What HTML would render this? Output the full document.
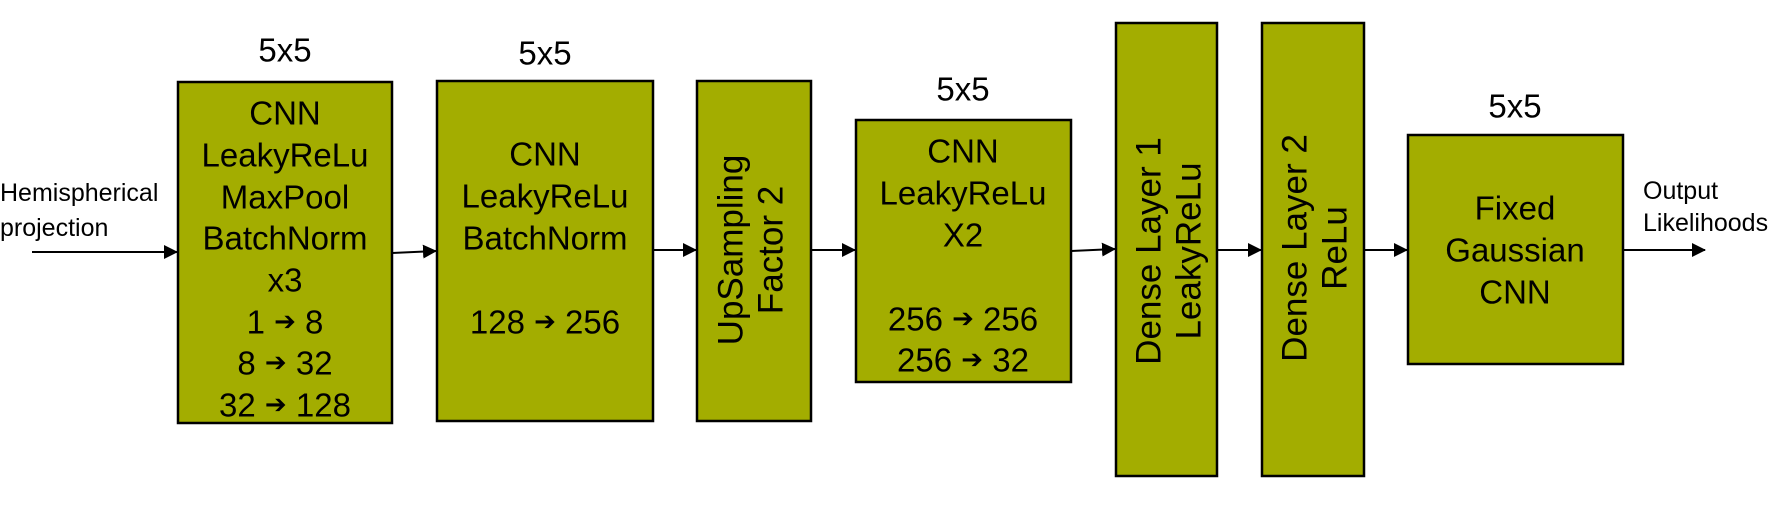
<!DOCTYPE html>
<html><head><meta charset="utf-8"><style>
html,body{margin:0;padding:0;background:#fff;}
svg{display:block;}
text{font-family:"Liberation Sans",Arial,sans-serif;fill:#000;}
.ar{font-family:"DejaVu Sans",sans-serif;font-size:26px;}
</style></head><body>
<svg width="1783" height="509" viewBox="0 0 1783 509" xmlns="http://www.w3.org/2000/svg">
<defs><marker id="a" markerWidth="14" markerHeight="14" refX="13" refY="7" orient="auto" markerUnits="userSpaceOnUse"><path d="M0,0 L14,7 L0,14 z" fill="#000"/></marker></defs>
<g fill="#a3ad00" stroke="#000" stroke-width="2.5">
<rect x="178" y="82" width="214" height="341"/>
<rect x="437" y="81" width="216" height="340"/>
<rect x="697" y="81" width="114" height="340"/>
<rect x="856" y="120" width="215" height="262"/>
<rect x="1116" y="23" width="101" height="453"/>
<rect x="1262" y="23" width="102" height="453"/>
<rect x="1408" y="135" width="215" height="229"/>
</g>
<g stroke="#000" stroke-width="2" marker-end="url(#a)">
<line x1="32" y1="252" x2="177" y2="252"/>
<line x1="392" y1="253" x2="436" y2="251"/>
<line x1="653" y1="250" x2="696" y2="250"/>
<line x1="811" y1="250" x2="855" y2="250"/>
<line x1="1071" y1="251" x2="1115" y2="249"/>
<line x1="1217" y1="250" x2="1261" y2="250"/>
<line x1="1364" y1="250" x2="1407" y2="250"/>
<line x1="1623" y1="250" x2="1705" y2="250"/>
</g>
<g font-size="33" text-anchor="middle" dominant-baseline="central">
<text x="285" y="50">5x5</text>
<text x="545" y="53">5x5</text>
<text x="963" y="89">5x5</text>
<text x="1515" y="106">5x5</text>
<text x="285" y="113">CNN</text>
<text x="285" y="155">LeakyReLu</text>
<text x="285" y="197">MaxPool</text>
<text x="285" y="238">BatchNorm</text>
<text x="285" y="280">x3</text>
<text x="285" y="322">1 <tspan class="ar">➔</tspan> 8</text>
<text x="285" y="363">8 <tspan class="ar">➔</tspan> 32</text>
<text x="285" y="405">32 <tspan class="ar">➔</tspan> 128</text>
<text x="545" y="154">CNN</text>
<text x="545" y="196">LeakyReLu</text>
<text x="545" y="238">BatchNorm</text>
<text x="545" y="322">128 <tspan class="ar">➔</tspan> 256</text>
<text x="963" y="151">CNN</text>
<text x="963" y="193">LeakyReLu</text>
<text x="963" y="235">X2</text>
<text x="963" y="319">256 <tspan class="ar">➔</tspan> 256</text>
<text x="963" y="360">256 <tspan class="ar">➔</tspan> 32</text>
<text x="1515" y="208">Fixed</text>
<text x="1515" y="250">Gaussian</text>
<text x="1515" y="292">CNN</text>
<text transform="translate(731,250) rotate(-90)" font-size="35">UpSampling</text>
<text transform="translate(771,250) rotate(-90)" font-size="35">Factor 2</text>
<text transform="translate(1149,251) rotate(-90)" font-size="35">Dense Layer 1</text>
<text transform="translate(1189,251) rotate(-90)" font-size="35">LeakyReLu</text>
<text transform="translate(1295,248) rotate(-90)" font-size="35">Dense Layer 2</text>
<text transform="translate(1335,248) rotate(-90)" font-size="35">ReLu</text>
</g>
<g font-size="25" dominant-baseline="central">
<text x="0" y="193">Hemispherical</text>
<text x="0" y="228">projection</text>
<text x="1643" y="191">Output</text>
<text x="1643" y="223">Likelihoods</text>
</g>
</svg>
</body></html>
